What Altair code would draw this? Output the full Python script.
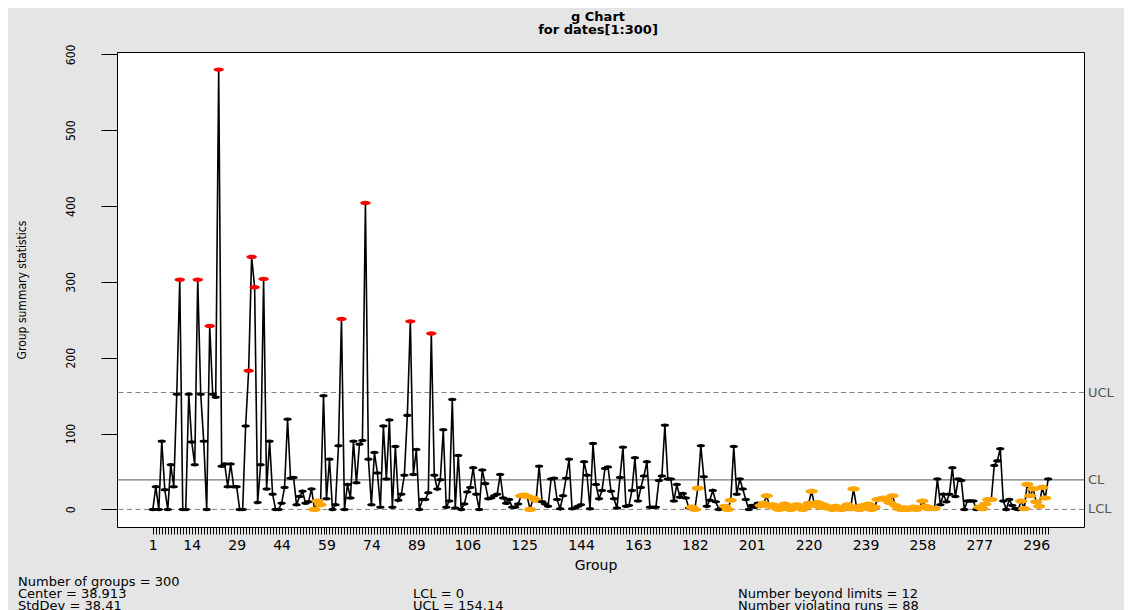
import altair as alt
import pandas as pd

# ---------------- data ----------------
groups = list(range(1, 301))
values = [
    0, 30, 0, 90, 26, 0, 59, 30, 152, 303,
    0, 0, 152, 89, 59, 303, 152, 90, 0, 242,
    152, 148, 580, 57, 60, 30, 60, 30, 30, 0,
    0, 110, 183, 333, 293, 9, 59, 304, 27, 90,
    20, 0, 0, 8, 29, 119, 41, 42, 6, 17,
    24, 8, 10, 27, 0, 11, 6, 150, 14, 66,
    0, 6, 84, 251, 0, 33, 15, 90, 35, 86,
    91, 404, 66, 6, 75, 48, 3, 110, 40, 118,
    3, 83, 12, 20, 45, 124, 248, 46, 79, 0,
    13, 13, 22, 232, 45, 27, 39, 105, 3, 11,
    145, 2, 71, 0, 7, 23, 29, 55, 20, 0,
    52, 34, 14, 15, 18, 20, 46, 15, 8, 13,
    3, 3, 7, 18, 19, 17, 0, 15, 12, 57,
    10, 7, 4, 40, 41, 13, 1, 18, 41, 66,
    1, 2, 4, 6, 63, 45, 1, 87, 33, 14,
    25, 54, 56, 24, 14, 2, 42, 82, 4, 5,
    25, 68, 11, 29, 44, 63, 3, 3, 3, 38,
    44, 111, 40, 40, 11, 33, 16, 21, 15, 2,
    3, 0, 28, 84, 43, 4, 12, 25, 10, 0,
    2, 4, 0, 12, 83, 20, 40, 27, 13, 0,
    5, 3, 8, 5, 8, 18, 4, 6, 2, 0,
    3, 7, 1, 0, 4, 6, 2, 0, 3, 8,
    24, 5, 9, 3, 6, 2, 3, 0, 4, 1,
    0, 2, 6, 1, 27, 3, 0, 5, 2, 7,
    0, 3, 13, 14, 15, 13, 9, 18, 5, 1,
    0, 2, 0, 1, 3, 0, 2, 11, 4, 1,
    2, 1, 40, 6, 20, 10, 20, 55, 17, 40,
    38, 0, 11, 11, 11, 0, 3, 1, 7, 13,
    13, 58, 64, 80, 11, 0, 13, 5, 1, 0,
    11, 1, 33, 18, 27, 10, 4, 29, 15, 40,
]
center_value = 38.913
ucl_value = 154.14
lcl_value = 0.0
run_length = 7

x_label_groups = [1, 14, 29, 44, 59, 74, 89, 106, 125, 144, 163, 182,
                  201, 220, 239, 258, 277, 296]
y_tick_values = [0, 100, 200, 300, 400, 500, 600]

limit_names = ["UCL", "CL", "LCL"]
limit_values = [ucl_value, center_value, lcl_value]

title_lines = ["g Chart", "for dates[1:300]"]
x_title = "Group"
y_title = "Group summary statistics"
stats_col1 = ["Number of groups = 300", "Center = 38.913", "StdDev = 38.41"]
stats_col2 = ["LCL = 0", "UCL = 154.14"]
stats_col3 = ["Number beyond limits = 12", "Number violating runs = 88"]

# ---------------- qcc style point classification ----------------
n = len(values)
sides = [1 if v > center_value else (-1 if v < center_value else 0) for v in values]
run_flag = [False] * n
i = 0
while i < n:
    j = i
    while j + 1 < n and sides[j + 1] == sides[i]:
        j += 1
    if sides[i] != 0 and (j - i + 1) >= run_length:
        for k in range(i + run_length - 1, j + 1):
            run_flag[k] = True
    i = j + 1
status = []
for k, v in enumerate(values):
    if v > ucl_value or v < lcl_value:
        status.append("beyond")
    elif run_flag[k]:
        status.append("run")
    else:
        status.append("ok")

df = pd.DataFrame({"group": groups, "value": values, "status": status})
lim_df = pd.DataFrame({"name": limit_names, "value": limit_values})

# ---------------- geometry / styles ----------------
W, H = 967, 475
PAD_L, PAD_T = 109, 44
xscale = alt.Scale(domain=[-10.96, 311.96], nice=False, zero=False)
yscale = alt.Scale(domain=[-23.2, 603.2], nice=False, zero=False)
ELLIPSE = "M -1 0 A 1 0.42 0 1 1 1 0 A 1 0.42 0 1 1 -1 0 Z"
WIDE = "DejaVu Sans"
NARROW = "Liberation Sans Narrow, DejaVu Sans Condensed, Liberation Sans"

label_expr = "indexof([" + ",".join(str(v) for v in x_label_groups) + \
    "], datum.value) >= 0 ? datum.label : ''"

x_axis = alt.Axis(values=groups, labelExpr=label_expr, tickSize=7, tickColor="black",
                  tickWidth=1, domain=False, grid=False, title=None, labelOverlap=False,
                  labelFont=WIDE, labelFontSize=14, labelColor="black", labelPadding=4,
                  labelFlush=False)
y_axis = alt.Axis(values=y_tick_values, labelAngle=270, labelAlign="center",
                  labelBaseline="bottom", tickSize=16, tickColor="black", labelPadding=24,
                  domain=False, grid=False, title=None, labelFont=NARROW,
                  labelFontSize=12, labelColor="black", labelOverlap=False)

X = alt.X("group:Q", scale=xscale, axis=x_axis)
Y = alt.Y("value:Q", scale=yscale, axis=y_axis)

line = alt.Chart(df).mark_line(color="black", strokeWidth=1.6).encode(x=X, y=Y)

points = alt.Chart(df).mark_point(filled=True, shape=ELLIPSE, opacity=1, strokeWidth=0).encode(
    x=X, y=Y,
    color=alt.Color("status:N", scale=alt.Scale(domain=["ok", "beyond", "run"],
                                                 range=["#000000", "#ff0000", "#ffa500"]),
                    legend=None),
    size=alt.Size("status:N", scale=alt.Scale(domain=["ok", "beyond", "run"],
                                               range=[70, 150, 135]), legend=None),
)

dashed = alt.Chart(lim_df).transform_filter("datum.name != 'CL'").mark_rule(
    color="#808080", strokeWidth=1, strokeDash=[5, 3.5]).encode(y=Y)
solid = alt.Chart(lim_df).transform_filter("datum.name == 'CL'").mark_rule(
    color="#555555", strokeWidth=1).encode(y=Y)

lim_text = alt.Chart(lim_df).mark_text(align="left", baseline="middle", font=WIDE,
                                       fontSize=13, color="#555555").encode(
    x=alt.value(W + 4), y=Y, text="name:N")


def label(txt, x, y, size, weight="normal", align="left", font=WIDE, angle=0):
    d = pd.DataFrame({"t": [txt]})
    return alt.Chart(d).mark_text(align=align, baseline="middle", font=font, fontSize=size,
                                  fontWeight=weight, color="black", angle=angle).encode(
        x=alt.value(x), y=alt.value(y), text="t:N")


texts = []
for r, t in enumerate(title_lines):
    texts.append(label(t, 481, -35 + 13 * r, 13, weight="bold", align="center"))
texts.append(label(x_title, 479, 514, 14, align="center"))
texts.append(label(y_title, -95, 238, 12, align="center", font=NARROW, angle=270))
for r, t in enumerate(stats_col1):
    texts.append(label(t, -99, 530 + 12 * r, 13))
for r, t in enumerate(stats_col2):
    texts.append(label(t, 296, 542 + 12 * r, 13))
for r, t in enumerate(stats_col3):
    texts.append(label(t, 621, 542 + 12 * r, 13))

chart = alt.layer(dashed, solid, line, points, lim_text, *texts).properties(
    width=W, height=H,
    padding={"left": PAD_L, "top": PAD_T, "right": 40, "bottom": 83},
    autosize=alt.AutoSizeParams(type="none"),
    background="#e5e5e5",
).configure_view(fill="white", stroke="black", strokeWidth=1)

chart.save("out.html", embed_options={"renderer": "svg", "actions": False})
